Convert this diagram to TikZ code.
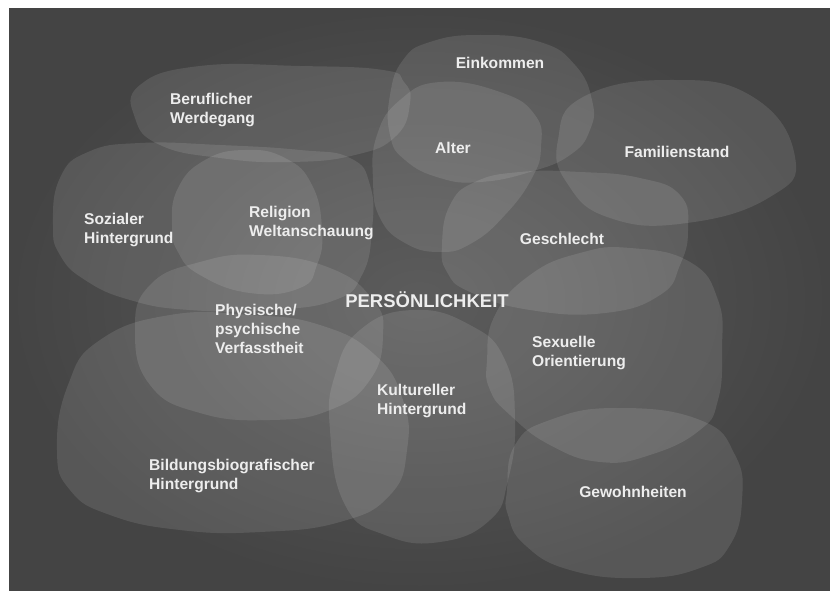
\documentclass[tikz,border=0pt]{standalone}
\usepackage{fontspec}
\setmainfont{Liberation Sans}
\definecolor{boardin}{HTML}{5C5C5C}
\definecolor{boardout}{HTML}{444444}
\definecolor{chalk}{HTML}{EDEDED}
\tikzset{
  blob/.style={fill=white, fill opacity=0.105},
  label/.style={text=chalk, inner sep=0pt, align=left,
    font=\fontsize{15.6}{19}\selectfont\bfseries},
  title/.style={text=chalk, inner sep=0pt,
    font=\fontsize{18.5}{22}\selectfont\bfseries}
}
\begin{document}
\begin{tikzpicture}[x=1pt, y=-1pt]
  \useasboundingbox (0,0) rectangle (830,591);
  \fill[white] (0,0) rectangle (830,591);
  % board
  \shade[inner color=boardin, outer color=boardout] (9,9) rectangle (830,591);

  % blobs
  \fill[blob] plot[smooth cycle, tension=0.8] coordinates {% Beruflicher Werdegang
    (200,66) (300,66) (383,70) (404,82) (410,103) (396,136) (355,155) (290,162) (220,158) (160,145) (135,118) (140,85)};
  \fill[blob] plot[smooth cycle, tension=0.8] coordinates {% Einkommen
    (480,35) (430,42) (403,60) (390,95) (390,135) (405,160) (440,178) (480,182) (530,172) (570,155) (590,130) (592,100) (575,65) (540,42)};
  \fill[blob] plot[smooth cycle, tension=0.8] coordinates {% Alter
    (440,82) (500,92) (535,115) (541,147) (532,178) (505,215) (472,243) (440,252) (405,243) (380,218) (373,180) (377,135) (400,100)};
  \fill[blob] plot[smooth cycle, tension=0.8] coordinates {% Familienstand
    (558,140) (583,97) (670,80) (753,97) (795,157) (770,197) (687,223) (610,218) (567,183)};
  \fill[blob] plot[smooth cycle, tension=0.8] coordinates {% Sozialer Hintergrund
    (53,225) (60,178) (88,152) (140,143) (220,145) (300,150) (350,158) (370,185) (372,230) (362,275) (335,300) (270,310) (190,310) (130,300) (85,280) (60,255)};
  \fill[blob] plot[smooth cycle, tension=0.8] coordinates {% Religion Weltanschauung
    (172,225) (178,188) (205,160) (245,150) (285,158) (312,185) (322,230) (317,265) (300,288) (250,293) (200,275) (178,252)};
  \fill[blob] plot[smooth cycle, tension=0.8] coordinates {% Geschlecht
    (442,245) (450,205) (475,182) (520,172) (580,172) (640,178) (680,195) (688,230) (680,265) (660,295) (605,313) (530,310) (470,292) (447,272)};
  \fill[blob] plot[smooth cycle, tension=0.8] coordinates {% Physische Verfassung
    (135,330) (150,285) (200,262) (260,255) (330,268) (373,300) (383,335) (370,380) (330,410) (270,420) (200,413) (150,385)};
  \fill[blob] plot[smooth cycle, tension=0.8] coordinates {% Bildungsbiografischer Hintergrund
    (57,450) (68,385) (100,340) (170,315) (250,315) (320,325) (375,355) (403,400) (407,450) (390,495) (340,522) (260,532) (180,530) (110,515) (70,490)};
  \fill[blob] plot[smooth cycle, tension=0.8] coordinates {% Kultureller Hintergrund
    (330,430) (335,375) (360,330) (413,310) (470,325) (505,360) (515,420) (508,480) (490,520) (440,542) (385,535) (345,505)};
  \fill[blob] plot[smooth cycle, tension=0.8] coordinates {% Sexuelle Orientierung
    (487,360) (495,315) (530,275) (580,253) (630,248) (690,262) (718,300) (722,350) (718,400) (700,430) (650,455) (600,462) (550,445) (510,415) (490,390)};
  \fill[blob] plot[smooth cycle, tension=0.8] coordinates {% Gewohnheiten
    (507,490) (515,445) (550,420) (617,408) (700,420) (735,455) (742,500) (730,545) (700,568) (640,578) (570,570) (525,545) (508,515)};

  % labels (multi-line nodes sit on the baseline of their last line)
  \node[label, anchor=base] (einkommen) at (500,68.5) {Einkommen};
  \node[label, anchor=base west] (beruf) at (170,123.5) {Beruflicher\\Werdegang};
  \node[label, anchor=base] (alter) at (453,153.5) {Alter};
  \node[label, anchor=base] (familie) at (677,157.5) {Familienstand};
  \node[label, anchor=base west] (sozial) at (84,243.5) {Sozialer\\Hintergrund};
  \node[label, anchor=base west] (religion) at (249,236.5) {Religion\\Weltanschauung};
  \node[label, anchor=base] (geschlecht) at (562,244.5) {Geschlecht};
  \node[title, anchor=base] (person) at (427,307) {PERSÖNLICHKEIT};
  \node[label, anchor=base west] (physis) at (215,353.5) {Physische/\\psychische\\Verfasstheit};
  \node[label, anchor=base west] (sexuell) at (532,366.5) {Sexuelle\\Orientierung};
  \node[label, anchor=base west] (kultur) at (377,414.5) {Kultureller\\Hintergrund};
  \node[label, anchor=base west] (bildung) at (149,489.5) {Bildungsbiografischer\\Hintergrund};
  \node[label, anchor=base] (gewohn) at (633,497.5) {Gewohnheiten};
\end{tikzpicture}
\end{document}
